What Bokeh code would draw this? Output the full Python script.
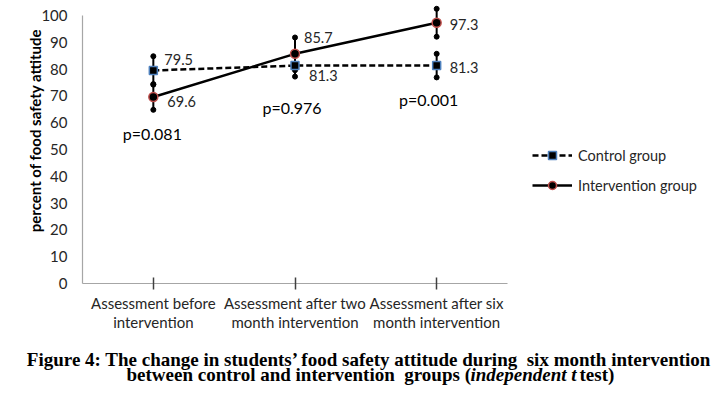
import math
from bokeh.plotting import figure
from bokeh.models import ColumnDataSource, FixedTicker, Legend, LegendItem, Label
from bokeh.core.properties import value
from bokeh.embed import file_html
from bokeh.resources import INLINE

# ---- data ----
categories = ["Assessment before\nintervention",
              "Assessment after two\nmonth intervention",
              "Assessment after six\nmonth intervention"]
control = [79.5, 81.3, 81.3]
intervention = [69.6, 85.7, 97.3]
control_err = [5.3, 4.1, 4.4]
intervention_err = [4.8, 6.1, 5.2]
p_values = ["p=0.081", "p=0.976", "p=0.001"]
p_value_y = [56.0, 65.7, 68.7]
y_ticks = [0, 10, 20, 30, 40, 50, 60, 70, 80, 90, 100]
y_title = "percent of food safety attitude"
caption_line1 = "Figure 4: The change in students\u2019 food safety attitude during\u00a0 six month intervention"
caption_line2 = ["between control and intervention\u00a0 groups (", "independent t", "test)"]

# ---- layout helpers (styles / offsets) ----
ctrl_lbl_dx = [11, 14, 13]
ctrl_lbl_dy = [-11, 10, 2]
int_lbl_dx = [14, 9, 13]
int_lbl_dy = [5, -16, 2]
p_dx = [-1, -3, -8]

xs = [i + 0.5 for i in range(len(categories))]
label_font = "Lato"
txt = "#262626"
dark = "#404040"
blue = "#4f81bd"
red = "#c0504d"
axis_gray = "#a6a6a6"

W, H = 721, 393
px_x = 425 / 3.0          # pixels per category unit
px_y = 2.68               # pixels per percent
x0_px, y0_px = 82, 283    # page position of the axes origin
x_start = -x0_px / px_x
y_start = -(H - y0_px) / px_y

p = figure(width=W, height=H, title=None,
           x_range=(x_start, x_start + W / px_x),
           y_range=(y_start, y_start + H / px_y),
           output_backend="svg", toolbar_location=None,
           min_border=0, min_border_left=0, min_border_right=0,
           min_border_top=0, min_border_bottom=0)
p.outline_line_color = None
p.xgrid.visible = False
p.ygrid.visible = False

# axes (drawn at the data origin)
p.xaxis.fixed_location = 0
p.xaxis.ticker = FixedTicker(ticks=xs)
p.xaxis.major_label_overrides = {x: c for x, c in zip(xs, categories)}
p.xaxis.axis_line_color = None
p.xaxis.major_tick_in = 6
p.xaxis.major_tick_out = 6
p.xaxis.major_tick_line_color = dark
p.xaxis.major_tick_line_width = 1.5
p.xaxis.minor_tick_line_color = None
p.xaxis.major_label_standoff = 4
p.xaxis.major_label_text_font = label_font
p.xaxis.major_label_text_font_size = "15px"
p.xaxis.major_label_text_color = txt
p.xaxis.major_label_text_line_height = 1.1

p.yaxis.fixed_location = 0
p.yaxis.ticker = FixedTicker(ticks=y_ticks)
p.yaxis.axis_line_color = None
p.yaxis.major_tick_in = 0
p.yaxis.major_tick_out = 0
p.yaxis.minor_tick_line_color = None
p.yaxis.major_label_standoff = 15
p.yaxis.major_label_text_font = label_font
p.yaxis.major_label_text_font_size = "15px"
p.yaxis.major_label_text_color = txt

# axis lines
p.segment(x0=[0], y0=[y_ticks[0]], x1=[0], y1=[y_ticks[-1]],
          line_color=axis_gray, line_width=1.2)
p.segment(x0=[0], y0=[0], x1=[len(categories)], y1=[0],
          line_color=axis_gray, line_width=1.2)

# error bars
for vals, errs in ((control, control_err), (intervention, intervention_err)):
    lo = [v - e for v, e in zip(vals, errs)]
    hi = [v + e for v, e in zip(vals, errs)]
    p.segment(x0=xs, y0=lo, x1=xs, y1=hi, line_color="black", line_width=2)
    p.scatter(x=xs + xs, y=lo + hi, size=5, fill_color="black", line_color="black")

# lines
c_line = p.line(xs, control, line_color="black", line_width=2.5, line_dash="6 3")
i_line = p.line(xs, intervention, line_color="black", line_width=2.5)
c_mark = p.scatter(xs, control, marker="square", size=8, fill_color="black",
                   line_color=blue, line_width=1.5)
i_mark = p.scatter(xs, intervention, marker="circle", size=9, fill_color="black",
                   line_color=red, line_width=1.5)

# data labels
src_c = ColumnDataSource(dict(x=xs, y=control, t=[f"{v:.1f}" for v in control],
                              dx=ctrl_lbl_dx, dy=ctrl_lbl_dy))
src_i = ColumnDataSource(dict(x=xs, y=intervention, t=[f"{v:.1f}" for v in intervention],
                              dx=int_lbl_dx, dy=int_lbl_dy))
for s in (src_c, src_i):
    p.text(x="x", y="y", text="t", x_offset="dx", y_offset="dy", source=s,
           text_font=value(label_font), text_font_size="14.5px", text_color=txt,
           text_align="left", text_baseline="middle")

# p values
src_p = ColumnDataSource(dict(x=xs, y=p_value_y, t=p_values, dx=p_dx))
p.text(x="x", y="y", text="t", x_offset="dx", source=src_p,
       text_font=value(label_font), text_font_size="16px", text_color="black",
       text_align="center", text_baseline="middle")

# legend
legend = Legend(items=[LegendItem(label="Control group", renderers=[c_line, c_mark]),
                       LegendItem(label="Intervention group", renderers=[i_line, i_mark])],
                location=(532, H - 195), orientation="vertical",
                glyph_width=40, glyph_height=20, label_height=20, label_standoff=6,
                spacing=10, padding=0, margin=0,
                border_line_color=None, background_fill_alpha=0,
                label_text_font=label_font, label_text_font_size="14.5px",
                label_text_color=txt)
p.add_layout(legend, "center")

# y axis title
p.add_layout(Label(x=34, y=H - 130, x_units="screen", y_units="screen",
                   text=y_title, angle=math.pi / 2,
                   text_align="center", text_baseline="middle",
                   text_font=label_font, text_font_size="15px",
                   text_font_style="bold", text_color="black"))

# caption
cap_font = "Liberation Serif"
p.add_layout(Label(x=369, y=H - 359, x_units="screen", y_units="screen",
                   text=caption_line1, text_align="center", text_baseline="alphabetic",
                   text_font=cap_font, text_font_size="19px", text_font_style="bold",
                   text_color="black"))
seg_x = [126, 470, 579]
seg_style = ["bold", "bold italic", "bold"]
for sx, st, sty in zip(seg_x, caption_line2, seg_style):
    p.add_layout(Label(x=sx, y=H - 374, x_units="screen", y_units="screen",
                       text=st, text_align="left", text_baseline="alphabetic",
                       text_font=cap_font, text_font_size="19px", text_font_style=sty,
                       text_color="black"))

open("out.html", "w").write(file_html(p, INLINE))
